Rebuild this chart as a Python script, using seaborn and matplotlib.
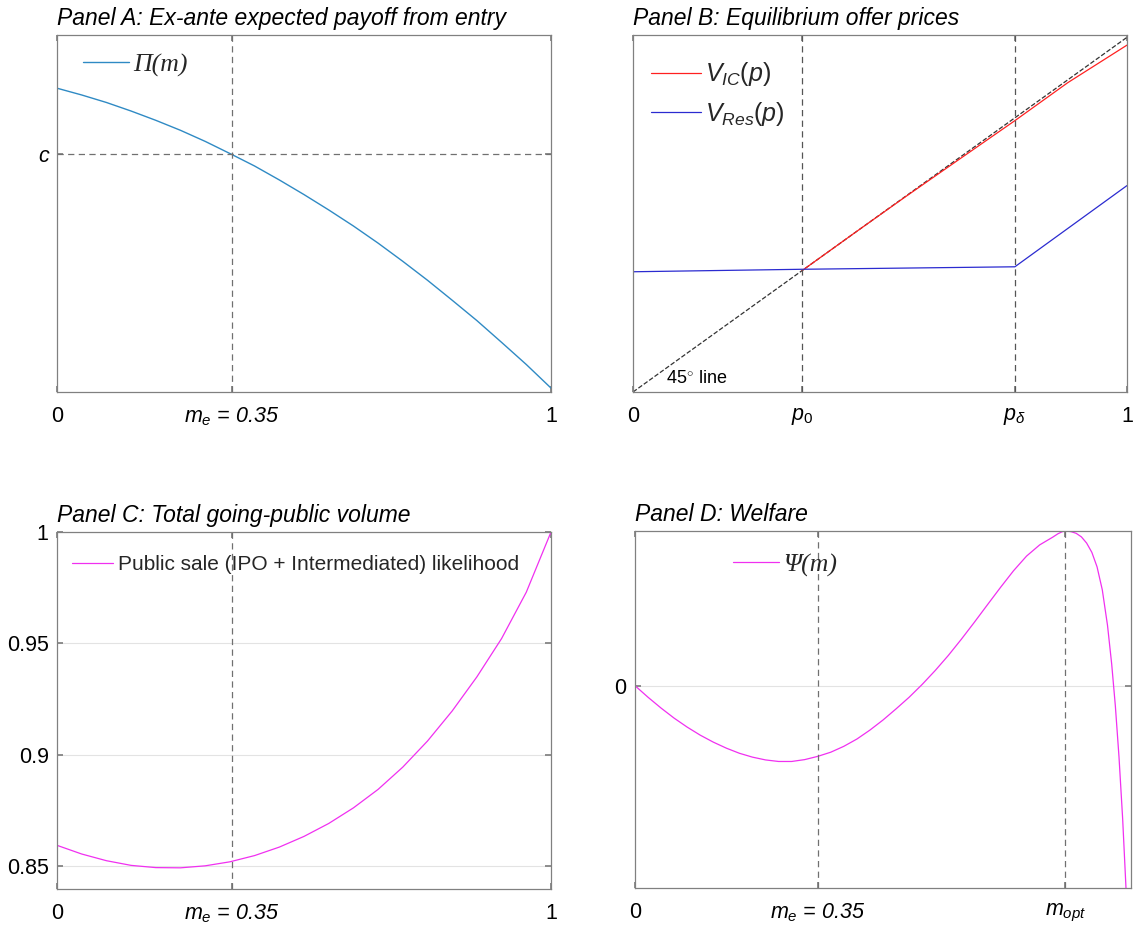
import numpy as np
import pandas as pd
import matplotlib
matplotlib.use("Agg")
import matplotlib.pyplot as plt
import seaborn as sns


# Panel A: ex-ante expected payoff Pi(m)
a_m = [0.0, 0.05, 0.10, 0.15, 0.20, 0.25, 0.30, 0.35, 0.40, 0.45, 0.50,
       0.55, 0.60, 0.65, 0.70, 0.75, 0.80, 0.85, 0.90, 0.95, 1.0]
a_pi = [0.851, 0.832, 0.811, 0.787, 0.761, 0.733, 0.702, 0.668, 0.633, 0.594, 0.553,
        0.510, 0.465, 0.417, 0.366, 0.313, 0.257, 0.200, 0.139, 0.077, 0.011]
a_c = 0.667
m_e = 0.354

# Panel B: offer prices
p0 = 0.342
p_delta = 0.773
ic_p = [0.342, 0.45, 0.55, 0.65, 0.773, 0.88, 1.0]
ic_v = [0.342, 0.450, 0.549, 0.646, 0.765, 0.872, 0.978]
res_p = [0.0, 0.342, 0.773, 1.0]
res_v = [0.339, 0.346, 0.353, 0.582]

# Panel C: going-public likelihood
c_m = [0.0, 0.05, 0.10, 0.15, 0.20, 0.25, 0.30, 0.35, 0.40, 0.45, 0.50,
       0.55, 0.60, 0.65, 0.70, 0.75, 0.80, 0.85, 0.90, 0.95, 1.0]
c_v = [0.8594, 0.8555, 0.8525, 0.8504, 0.8494, 0.8493, 0.8502, 0.8520, 0.8548, 0.8586,
       0.8634, 0.8692, 0.8762, 0.8845, 0.8945, 0.9062, 0.9197, 0.9350, 0.9522, 0.9730, 1.0]
c_ticks = [0.85, 0.9, 0.95, 1.0]
c_ticklabels = ["0.85", "0.9", "0.95", "1"]

# Panel D: welfare Psi(m)
d_m = [0.0, 0.025, 0.05, 0.075, 0.10, 0.125, 0.15, 0.175, 0.20, 0.225, 0.25, 0.275,
       0.30, 0.325, 0.35, 0.375, 0.40, 0.425, 0.45, 0.475, 0.50, 0.525, 0.55, 0.575,
       0.60, 0.625, 0.65, 0.675, 0.70, 0.725, 0.75, 0.775, 0.80, 0.81, 0.818, 0.824,
       0.835, 0.845, 0.855, 0.865, 0.875, 0.885, 0.895, 0.905, 0.913, 0.920, 0.927,
       0.934, 0.941]
d_psi = [0.0, -0.075, -0.145, -0.210, -0.268, -0.320, -0.365, -0.404, -0.437, -0.462,
         -0.480, -0.490, -0.490, -0.478, -0.457, -0.430, -0.392, -0.345, -0.287, -0.222,
         -0.150, -0.075, 0.008, 0.098, 0.195, 0.300, 0.410, 0.523, 0.635, 0.743, 0.838,
         0.910, 0.960, 0.982, 0.995, 1.0, 0.996, 0.985, 0.962, 0.922, 0.862, 0.768,
         0.620, 0.390, 0.140, -0.130, -0.460, -0.860, -1.350]
m_opt = 0.824


sns.set_theme(style="white")
plt.rcParams["font.family"] = ["Liberation Sans", "DejaVu Sans"]
plt.rcParams["mathtext.fontset"] = "custom"
plt.rcParams["mathtext.rm"] = "Liberation Sans"
plt.rcParams["mathtext.it"] = "Liberation Sans:italic"
plt.rcParams["mathtext.bf"] = "Liberation Sans:bold"

W, H = 1135, 932
fig = plt.figure(figsize=(W / 100, H / 100), dpi=100)

def box(l, top, w, h):
    return [l / W, (H - top - h) / H, w / W, h / H]

axA = fig.add_axes(box(57, 35, 494, 357))
axB = fig.add_axes(box(633, 35, 494, 357))
axC = fig.add_axes(box(57, 532, 494, 357))
axD = fig.add_axes(box(635, 531, 496, 357))

spine_col = "#808080"
vline_col = "#707070"
dash = (0, (5, 3.5))
tick_fs = 15.5

for ax in [axA, axB, axC, axD]:
    for s in ax.spines.values():
        s.set_color(spine_col)
        s.set_linewidth(0.9)
    ax.tick_params(direction="in", length=4, color=spine_col, labelsize=tick_fs,
                   labelcolor="black", top=True, right=True, bottom=True, left=True)
    ax.tick_params(axis="x", pad=10)
    ax.tick_params(axis="y", pad=6)


def italic_mid(ax, idx):
    for i, lab in enumerate(ax.get_xticklabels()):
        if i in idx:
            lab.set_fontstyle("italic")


title_kw = dict(loc="left", fontsize=16.5, fontstyle="italic", pad=7, color="black")
serif_leg = dict(family="Liberation Serif", style="italic", size=18.5)

# ---- Panel A
sns.lineplot(x=a_m, y=a_pi, ax=axA, color="#2f8ac4", lw=1.0, label="Π(m)")
axA.axhline(a_c, color=vline_col, lw=0.9, ls=dash)
axA.axvline(m_e, color=vline_col, lw=0.9, ls=dash)
axA.set_xlim(0, 1)
axA.set_ylim(0, 1)
axA.set_xticks([0, m_e, 1])
axA.set_xticklabels(["0", r"$m_e$ = 0.35", "1"])
italic_mid(axA, [1])
axA.set_yticks([a_c])
axA.set_yticklabels(["c"], fontstyle="italic")
axA.set_title("Panel A: Ex-ante expected payoff from entry", **title_kw)
axA.legend(loc="center left", bbox_to_anchor=(0.053, 0.916), frameon=False,
           borderpad=0, borderaxespad=0, handlelength=1.8, handletextpad=0.15,
           prop=serif_leg)

# ---- Panel B
sns.lineplot(x=[0, 1], y=[0, 1], ax=axB, color="#333333", lw=0.9,
             linestyle="--", dashes=(5, 3.5))
sns.lineplot(x=ic_p, y=ic_v, ax=axB, color="#ff2020", lw=0.9, label=r"$V_{IC}(p)$")
sns.lineplot(x=res_p, y=res_v, ax=axB, color="#2b2bd0", lw=0.9, label=r"$V_{Res}(p)$")
axB.axvline(p0, color="#555555", lw=0.9, ls=dash)
axB.axvline(p_delta, color="#555555", lw=0.9, ls=dash)
axB.set_xlim(0, 1)
axB.set_ylim(0, 1.0065)
axB.set_xticks([0, p0, p_delta, 1])
axB.set_xticklabels(["0", r"$p_\mathit{0}$", r"$p_\delta$", "1"])
axB.set_yticks([])
axB.text(0.067, 0.026, r"45$^{\circ}$ line", fontsize=13, color="black")
axB.set_title("Panel B: Equilibrium offer prices", **title_kw)
axB.legend(loc="center left", bbox_to_anchor=(0.036, 0.835), frameon=False,
           borderpad=0, borderaxespad=0, handlelength=2.0, handletextpad=0.15,
           labelspacing=0.45, fontsize=18)

# ---- Panel C
axC.grid(axis="y", color="#e3e3e3", lw=0.8)
sns.lineplot(x=c_m, y=c_v, ax=axC, color="#f030f0", lw=0.9,
             label="Public sale (IPO + Intermediated) likelihood")
axC.axvline(m_e, color=vline_col, lw=0.9, ls=dash)
axC.set_xlim(0, 1)
axC.set_ylim(0.8398, 1.0)
axC.set_yticks(c_ticks)
axC.set_yticklabels(c_ticklabels)
axC.set_xticks([0, m_e, 1])
axC.set_xticklabels(["0", r"$m_e$ = 0.35", "1"])
italic_mid(axC, [1])
axC.set_title("Panel C: Total going-public volume", **title_kw)
axC.legend(loc="center left", bbox_to_anchor=(0.03, 0.908), frameon=False,
           borderpad=0, borderaxespad=0, handlelength=2.0, handletextpad=0.2,
           fontsize=15)

# ---- Panel D
axD.axhline(0, color="#e3e3e3", lw=0.8, zorder=0)
sns.lineplot(x=d_m, y=d_psi, ax=axD, color="#f030f0", lw=0.9, label="Ψ(m)")
axD.axvline(0.35, color=vline_col, lw=0.9, ls=dash)
axD.axvline(m_opt, color=vline_col, lw=0.9, ls=dash)
axD.set_xlim(0, 0.95)
axD.set_ylim(-1.308, 1.0)
axD.set_yticks([0])
axD.set_yticklabels(["0"])
axD.set_xticks([0, 0.35, m_opt])
axD.set_xticklabels(["0", r"$m_e$ = 0.35", r"$m_{opt}$"])
italic_mid(axD, [1])
axD.set_title("Panel D: Welfare", **title_kw)
axD.legend(loc="center left", bbox_to_anchor=(0.198, 0.905), frameon=False,
           borderpad=0, borderaxespad=0, handlelength=1.8, handletextpad=0.15,
           prop=serif_leg)

fig.savefig("out.png", dpi=100)
